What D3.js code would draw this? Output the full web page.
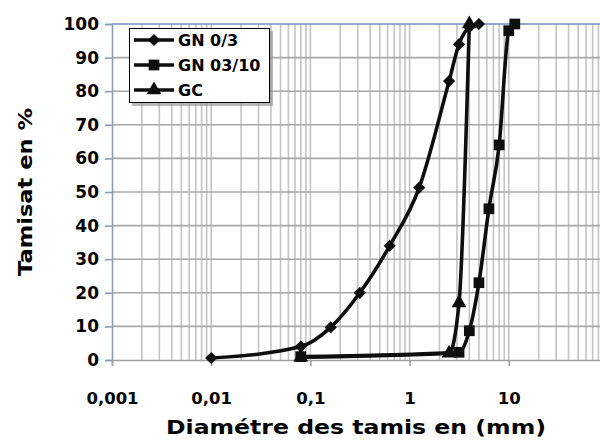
<!DOCTYPE html>
<html>
<head>
<meta charset="utf-8">
<script src="https://cdn.jsdelivr.net/npm/d3@7"></script>
<style>
  html, body { margin: 0; padding: 0; background: #fff; }
  svg { display: block; }
  text { font-family: "DejaVu Sans", sans-serif; font-weight: bold; fill: #000; }
</style>
</head>
<body>
<svg id="chart" width="600" height="441"></svg>
<script>
// ---- Data ----
const seriesNames = ["GN 0/3", "GN 03/10", "GC"];
const gn03Diam  = [0.01, 0.08, 0.16, 0.315, 0.63, 1.25, 2.5, 3.15, 4, 5];
const gn03Pass  = [0.6, 4, 9.7, 20, 34, 51.3, 83, 94, 99, 100];
const gn0310Diam = [0.08, 3.15, 4, 5, 6.3, 8, 10, 11.5];
const gn0310Pass = [1, 2.3, 8.7, 23, 45, 64, 98, 100];
const gcDiam = [0.08, 2.5, 3.15, 4];
const gcPass = [0.8, 2, 17, 100];
const xTickValues = [0.001, 0.01, 0.1, 1, 10];
const xTickLabels = ["0,001", "0,01", "0,1", "1", "10"];
const yTickValues = [0, 10, 20, 30, 40, 50, 60, 70, 80, 90, 100];
const xTitle = "Diamétre des tamis en (mm)";
const yTitle = "Tamisat en %";

// ---- Layout ----
const svg = d3.select("#chart");
const pLeft = 112, pRight = 608, pTop = 24, pBottom = 360;
const x = d3.scaleLog().domain([0.001, 100]).range([pLeft, pRight]);
const y = d3.scaleLinear().domain([0, 100]).range([pBottom, pTop]);

// vertical grid (log minor lines)
const vGrid = [];
for (let e = -3; e <= 1; e++) {
  for (let k = 1; k <= 9; k++) {
    const v = k * Math.pow(10, e);
    if (v > 0.001) vGrid.push(v);
  }
}
vGrid.push(100);
svg.append("g").selectAll("line").data(vGrid).join("line")
  .attr("x1", d => x(d)).attr("x2", d => x(d))
  .attr("y1", pTop).attr("y2", pBottom)
  .attr("stroke", "#c4c4c4").attr("stroke-width", 1.6);

// horizontal grid
svg.append("g").selectAll("line").data(yTickValues.filter(v => v > 0 && v < 100)).join("line")
  .attr("x1", pLeft).attr("x2", 600)
  .attr("y1", d => y(d)).attr("y2", d => y(d))
  .attr("stroke", "#a8a8a8").attr("stroke-width", 1.6);

// top border
svg.append("line").attr("x1", pLeft).attr("x2", 600).attr("y1", pTop).attr("y2", pTop)
  .attr("stroke", "#6f8fbf").attr("stroke-width", 1.6);

// y axis
const yAxis = d3.axisLeft(y).tickValues(yTickValues).tickSize(7).tickPadding(6);
const gy = svg.append("g").attr("transform", `translate(${pLeft},0)`).call(yAxis);
gy.select(".domain").attr("stroke", "#8c9cb8").attr("stroke-width", 1.6);
gy.selectAll(".tick line").attr("stroke", "#8c9cb8").attr("stroke-width", 1.6);
gy.selectAll(".tick text").style("font-size", "17px").style("font-family", "DejaVu Sans").style("font-weight", "bold").attr("fill", "#000");

// x axis
const xAxis = d3.axisBottom(x).tickValues(xTickValues)
  .tickFormat((d, i) => xTickLabels[i]).tickSize(6).tickPadding(26);
const gx = svg.append("g").attr("transform", `translate(0,${pBottom})`).call(xAxis);
gx.select(".domain").attr("stroke", "#a0a0a0").attr("stroke-width", 1.6);
gx.selectAll(".tick line").attr("stroke", "#a0a0a0").attr("stroke-width", 1.6);
gx.selectAll(".tick text").style("font-size", "16.5px").style("font-family", "DejaVu Sans").style("font-weight", "bold").attr("fill", "#000");

// titles
svg.append("text").attr("x", 356).attr("y", 434).attr("text-anchor", "middle")
  .style("font-size", "20px").attr("textLength", 380).attr("lengthAdjust", "spacingAndGlyphs")
  .text(xTitle);
svg.append("text").attr("transform", "translate(32,192) rotate(-90)").attr("text-anchor", "middle")
  .style("font-size", "20px").attr("textLength", 168).attr("lengthAdjust", "spacingAndGlyphs")
  .text(yTitle);

// series
const series = [
  { name: seriesNames[0], pts: gn03Diam.map((d, i) => [d, gn03Pass[i]]), marker: "diamond" },
  { name: seriesNames[1], pts: gn0310Diam.map((d, i) => [d, gn0310Pass[i]]), marker: "square" },
  { name: seriesNames[2], pts: gcDiam.map((d, i) => [d, gcPass[i]]), marker: "triangle" }
];
const symbols = {
  diamond: d3.symbol().type(d3.symbolDiamond2).size(95),
  square: d3.symbol().type(d3.symbolSquare).size(115),
  triangle: d3.symbol().type(d3.symbolTriangle).size(95)
};
const line = d3.line().x(d => x(d[0])).y(d => y(d[1])).curve(d3.curveMonotoneX);
const ink = "#0e0e0e";

series.forEach(s => {
  svg.append("path").datum(s.pts).attr("d", line)
    .attr("fill", "none").attr("stroke", ink).attr("stroke-width", 3.6)
    .attr("stroke-linejoin", "round");
});
series.forEach(s => {
  svg.append("g").selectAll("path").data(s.pts).join("path")
    .attr("transform", d => `translate(${x(d[0])},${y(d[1])})`)
    .attr("d", symbols[s.marker]).attr("fill", ink);
});

// legend
const lg = svg.append("g");
lg.append("rect").attr("x", 132).attr("y", 31).attr("width", 141).attr("height", 75)
  .attr("fill", "#8a8a8a").attr("opacity", 0.6);
lg.append("rect").attr("x", 129.5).attr("y", 28.5).attr("width", 140).attr("height", 74)
  .attr("fill", "#fff").attr("stroke", "#000").attr("stroke-width", 1);
const rowY = [40, 65, 90];
series.forEach((s, i) => {
  lg.append("line").attr("x1", 134).attr("x2", 174).attr("y1", rowY[i]).attr("y2", rowY[i])
    .attr("stroke", ink).attr("stroke-width", 3.6);
  lg.append("path").attr("transform", `translate(154,${rowY[i]})`).attr("d", symbols[s.marker]).attr("fill", ink);
  lg.append("text").attr("x", 178).attr("y", rowY[i]).attr("dy", "0.36em")
    .style("font-size", "16px").text(s.name);
});
</script>
</body>
</html>
